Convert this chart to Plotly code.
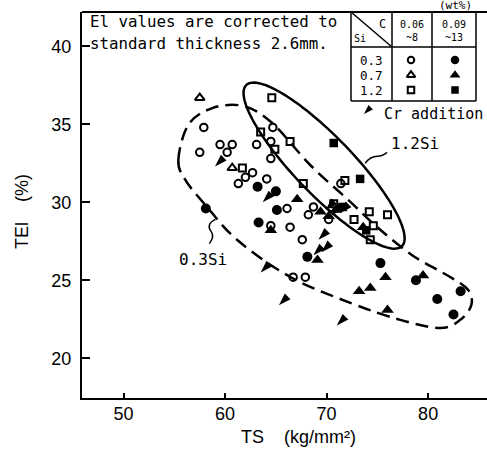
import numpy as np
import plotly.graph_objects as go

# ---- measured points: tensile strength TS (kg/mm2) vs total elongation TEl (%) ----
# Si 0.3 %, C 0.06~0.08 %
si03_lc_ts = [57.9, 57.5, 59.5, 60.7, 60.2, 63.1, 64.5, 64.7, 64.5, 62.7, 62.0, 64.1,
              61.3, 66.1, 68.2, 68.7, 70.2, 64.5, 66.4, 67.6, 66.7, 67.9, 71.4]
si03_lc_tel = [34.8, 33.2, 33.7, 33.7, 33.2, 33.7, 33.9, 34.8, 32.8, 31.9, 31.6, 31.5,
               31.2, 29.6, 29.2, 29.7, 28.9, 28.5, 28.4, 27.6, 25.2, 25.2, 31.2]
# Si 0.3 %, C 0.09~0.13 %
si03_hc_ts = [58.1, 63.2, 65.0, 65.1, 63.3, 68.1, 75.3, 78.8, 83.2, 80.9, 82.5]
si03_hc_tel = [29.6, 31.0, 30.7, 29.5, 28.7, 26.5, 26.1, 25.0, 24.3, 23.8, 22.8]
# Si 0.7 %, C 0.06~0.08 %
si07_lc_ts = [57.5, 60.7]
si07_lc_tel = [36.7, 32.2]
# Si 0.7 %, C 0.09~0.13 %
si07_hc_ts = [67.1, 64.5, 69.1, 75.8, 74.3, 73.2, 79.5, 76.0, 73.6, 69.4, 70.2, 70.9]
si07_hc_tel = [30.2, 28.2, 26.3, 25.2, 24.5, 24.3, 25.3, 23.1, 28.4, 29.4, 29.1, 29.5]
# Si 1.2 %, C 0.06~0.08 %
si12_lc_ts = [64.6, 63.5, 64.9, 66.4, 61.7, 67.7, 71.8, 70.7, 72.7, 74.2, 76.0, 74.6, 74.3]
si12_lc_tel = [36.7, 34.5, 33.4, 33.9, 32.2, 31.2, 31.4, 29.9, 28.9, 29.4, 29.2, 28.5, 27.6]
# Si 1.2 %, C 0.09~0.13 %
si12_hc_ts = [70.7, 73.3, 71.6, 73.9]
si12_hc_tel = [33.8, 31.5, 29.7, 28.2]
# Cr-added steels
cr_ts = [59.0, 63.7, 69.2, 68.7, 69.5, 63.5, 65.3, 71.0, 69.9, 70.6, 71.3]
cr_tel = [32.3, 30.0, 27.6, 26.6, 26.8, 25.5, 23.4, 22.1, 29.5, 29.2, 29.3]

x_ticks = [50, 60, 70, 80]
y_ticks = [20, 25, 30, 35, 40]

# ---- canvas geometry ----
W, H = 487, 459
ML, MR, MT, MB = 82, 0, 12, 61
X_RANGE = [45.9, 85.8]
Y_RANGE = [17.45, 42.2]
PW, PH = W - ML - MR, H - MT - MB
SX = PW / (X_RANGE[1] - X_RANGE[0])   # px per kg/mm2
SY = PH / (Y_RANGE[1] - Y_RANGE[0])   # px per %
NBSP = "\u00a0"


def to_paper_x(px):
    return (px - ML) / PW


def to_paper_y(py):
    return (H - MB - py) / PH


fig = go.Figure()


def add_group(ts, tel, symbol, size, lw=0, angle=0):
    fig.add_trace(go.Scatter(
        x=ts, y=tel, mode="markers", showlegend=False, cliponaxis=False,
        marker=dict(symbol=symbol, size=size, color="black", angle=angle,
                    line=dict(color="black", width=lw)),
    ))


add_group(si03_lc_ts, si03_lc_tel, "circle-open", 7.5, 2)
add_group(si07_lc_ts, si07_lc_tel, "triangle-up-open", 8.5, 2)
add_group(si12_lc_ts, si12_lc_tel, "square-open", 7, 2)
add_group(si03_hc_ts, si03_hc_tel, "circle", 10)
add_group(si07_hc_ts, si07_hc_tel, "triangle-up", 11)
add_group(si12_hc_ts, si12_hc_tel, "square", 8.5)
add_group(cr_ts, cr_tel, "arrow", 13, 0, 225)

shapes = []

# ---- 1.2Si region: rotated ellipse ----
def ellipse_path(cx, cy, a_px, b_px, theta_deg, n=120):
    th = np.radians(theta_deg)
    t = np.linspace(0, 2 * np.pi, n, endpoint=False)
    dx = a_px * np.cos(t) * np.cos(th) - b_px * np.sin(t) * np.sin(th)
    dy = a_px * np.cos(t) * np.sin(th) + b_px * np.sin(t) * np.cos(th)
    xs = cx + dx / SX
    ys = cy - dy / SY
    pts = " L ".join(f"{x:.4f},{y:.4f}" for x, y in zip(xs, ys))
    return "M " + pts + " Z"


shapes.append(dict(type="path", xref="x", yref="y",
                   path=ellipse_path(69.75, 32.35, 112, 29, 46),
                   line=dict(color="black", width=2.5)))

# ---- 0.3Si region: closed smooth dashed loop ----
loop_ts = [55.39, 56.37, 58.74, 61.79, 64.64, 68.38, 72.13, 75.08, 78.53, 82.17,
           83.95, 84.26, 83.17, 81.20, 77.26, 72.33, 66.42, 61.20, 58.05, 56.08]
loop_tel = [32.71, 34.96, 36.04, 36.17, 35.08, 32.39, 30.15, 28.35, 26.56, 25.21,
            24.38, 23.42, 22.46, 21.94, 22.46, 23.55, 25.21, 27.58, 29.83, 31.43]


def closed_spline(xs, ys):
    # Catmull-Rom through the vertices, converted to cubic Bezier segments
    P = np.column_stack([np.array(xs) * SX, -np.array(ys) * SY])
    n = len(P)
    segs = []
    for i in range(n):
        p0, p1, p2, p3 = P[i - 1], P[i], P[(i + 1) % n], P[(i + 2) % n]
        c1 = p1 + (p2 - p0) / 6
        c2 = p2 - (p3 - p1) / 6
        segs.append((c1, c2, p2))

    def d(p):
        return f"{p[0] / SX:.4f},{-p[1] / SY:.4f}"

    path = "M " + d(P[0])
    for c1, c2, p2 in segs:
        path += f" C {d(c1)} {d(c2)} {d(p2)}"
    return path + " Z"


shapes.append(dict(type="path", xref="x", yref="y",
                   path=closed_spline(loop_ts, loop_tel),
                   line=dict(color="black", width=2.5, dash="13px,7px")))

# leader lines to the region labels
shapes.append(dict(type="path", xref="x", yref="y",
                   path="M 59.05,28.9 Q 58.1,28.6 58.6,28.15 Q 59.0,27.8 58.45,27.35",
                   line=dict(color="black", width=1.5)))
shapes.append(dict(type="path", xref="x", yref="y",
                   path="M 73.8,32.5 Q 74.3,32.95 75.0,32.95 Q 75.5,32.95 75.95,33.2",
                   line=dict(color="black", width=1.5)))

# ---- composition key table ----
tl, tr, tt, tb = 351, 476, 12, 101
c1x, c2x, hy = 392, 432, 47
for (x0, y0, x1, y1) in [(tl, tt, tl, tb), (tr, tt, tr, tb), (tl, tb, tr, tb),
                         (tl, hy, tr, hy), (c1x, tt, c1x, tb), (c2x, tt, c2x, tb),
                         (tl, tt, c1x, hy)]:
    shapes.append(dict(type="line", xref="paper", yref="paper",
                       x0=to_paper_x(x0), y0=to_paper_y(y0),
                       x1=to_paper_x(x1), y1=to_paper_y(y1),
                       line=dict(color="black", width=1.5)))

annotations = []


def note(text, px, py, size, xanchor="center", family="DejaVu Sans Mono", ref="paper"):
    annotations.append(dict(
        text=text, x=to_paper_x(px), y=to_paper_y(py), xref=ref, yref=ref,
        showarrow=False, xanchor=xanchor, yanchor="middle",
        font=dict(family=family, size=size, color="black")))


note("(wt%)", 455, 6, 11)
note("C", 382, 24, 12)
note("Si", 360, 38, 10)
note("0.06", 412, 24, 10)
note("~8", 412, 37, 10)
note("0.09", 454, 24, 10)
note("~13", 454, 37, 10)
row_y = [60, 75, 90]
for lab, yy in zip(["0.3", "0.7", "1.2"], row_y):
    note(lab, 371, yy, 12.5)
note("Cr addition", 382, 114, 15, xanchor="left")
note("El values are corrected to", 88, 22, 15.8, xanchor="left")
note("standard thickness 2.6mm.", 88, 44, 15.8, xanchor="left")

# key symbols drawn on an overlay axis in plot-fraction units
key_x = [to_paper_x(411)] * 3 + [to_paper_x(455)] * 3
key_y = [to_paper_y(v) for v in row_y] * 2
key_sym = ["circle-open", "triangle-up-open", "square-open", "circle", "triangle-up", "square"]
key_size = [6.5, 7.5, 6.5, 8.5, 9.5, 7.5]
for x, y, s, z in zip(key_x, key_y, key_sym, key_size):
    fig.add_trace(go.Scatter(
        x=[x], y=[y], xaxis="x2", yaxis="y2", mode="markers", showlegend=False,
        cliponaxis=False,
        marker=dict(symbol=s, size=z, color="black", line=dict(color="black", width=2 if "open" in s else 0))))
fig.add_trace(go.Scatter(
    x=[to_paper_x(364)], y=[to_paper_y(114)], xaxis="x2", yaxis="y2", mode="markers",
    showlegend=False, cliponaxis=False,
    marker=dict(symbol="arrow", size=10, angle=225, color="black")))

# region labels
annotations.append(dict(text="1.2Si", x=76.1, y=33.8, xref="x", yref="y", showarrow=False,
                        xanchor="left", yanchor="middle",
                        font=dict(family="DejaVu Sans Mono", size=16, color="black")))
annotations.append(dict(text="0.3Si", x=57.85, y=26.35, xref="x", yref="y", showarrow=False,
                        xanchor="center", yanchor="middle",
                        font=dict(family="DejaVu Sans Mono", size=16, color="black")))

# axis titles
note("TS" + NBSP * 4 + "(kg/mm\u00b2)", 298, 437, 18, family="Liberation Sans")
annotations.append(dict(text="TEl" + NBSP * 4 + "(%)", x=to_paper_x(22), y=to_paper_y(212),
                        xref="paper", yref="paper", showarrow=False, textangle=-90,
                        xanchor="center", yanchor="middle",
                        font=dict(family="Liberation Sans", size=18, color="black")))

fig.update_layout(
    width=W, height=H, margin=dict(l=ML, r=MR, t=MT, b=MB),
    paper_bgcolor="white", plot_bgcolor="white",
    shapes=shapes, annotations=annotations,
    xaxis=dict(range=X_RANGE, tickvals=x_ticks, ticks="inside", ticklen=5, tickwidth=1.5,
               tickcolor="black", showline=True, linecolor="black", linewidth=2,
               mirror=False, showgrid=False, zeroline=False, ticklabelstandoff=-2,
               tickfont=dict(family="Liberation Sans", size=18, color="black")),
    yaxis=dict(range=Y_RANGE, tickvals=y_ticks, ticks="inside", ticklen=8, tickwidth=1.5,
               tickcolor="black", showline=True, linecolor="black", linewidth=2,
               showgrid=False, zeroline=False, ticklabelstandoff=5,
               tickfont=dict(family="Liberation Sans", size=18, color="black")),
    xaxis2=dict(domain=[0, 1], range=[0, 1], overlaying="x", visible=False, anchor="y2"),
    yaxis2=dict(domain=[0, 1], range=[0, 1], overlaying="y", visible=False, anchor="x2"),
)

# top frame line
fig.add_shape(type="line", xref="paper", yref="paper", x0=0, x1=1, y0=1, y1=1,
              line=dict(color="black", width=2))

fig.write_html("out.html")
